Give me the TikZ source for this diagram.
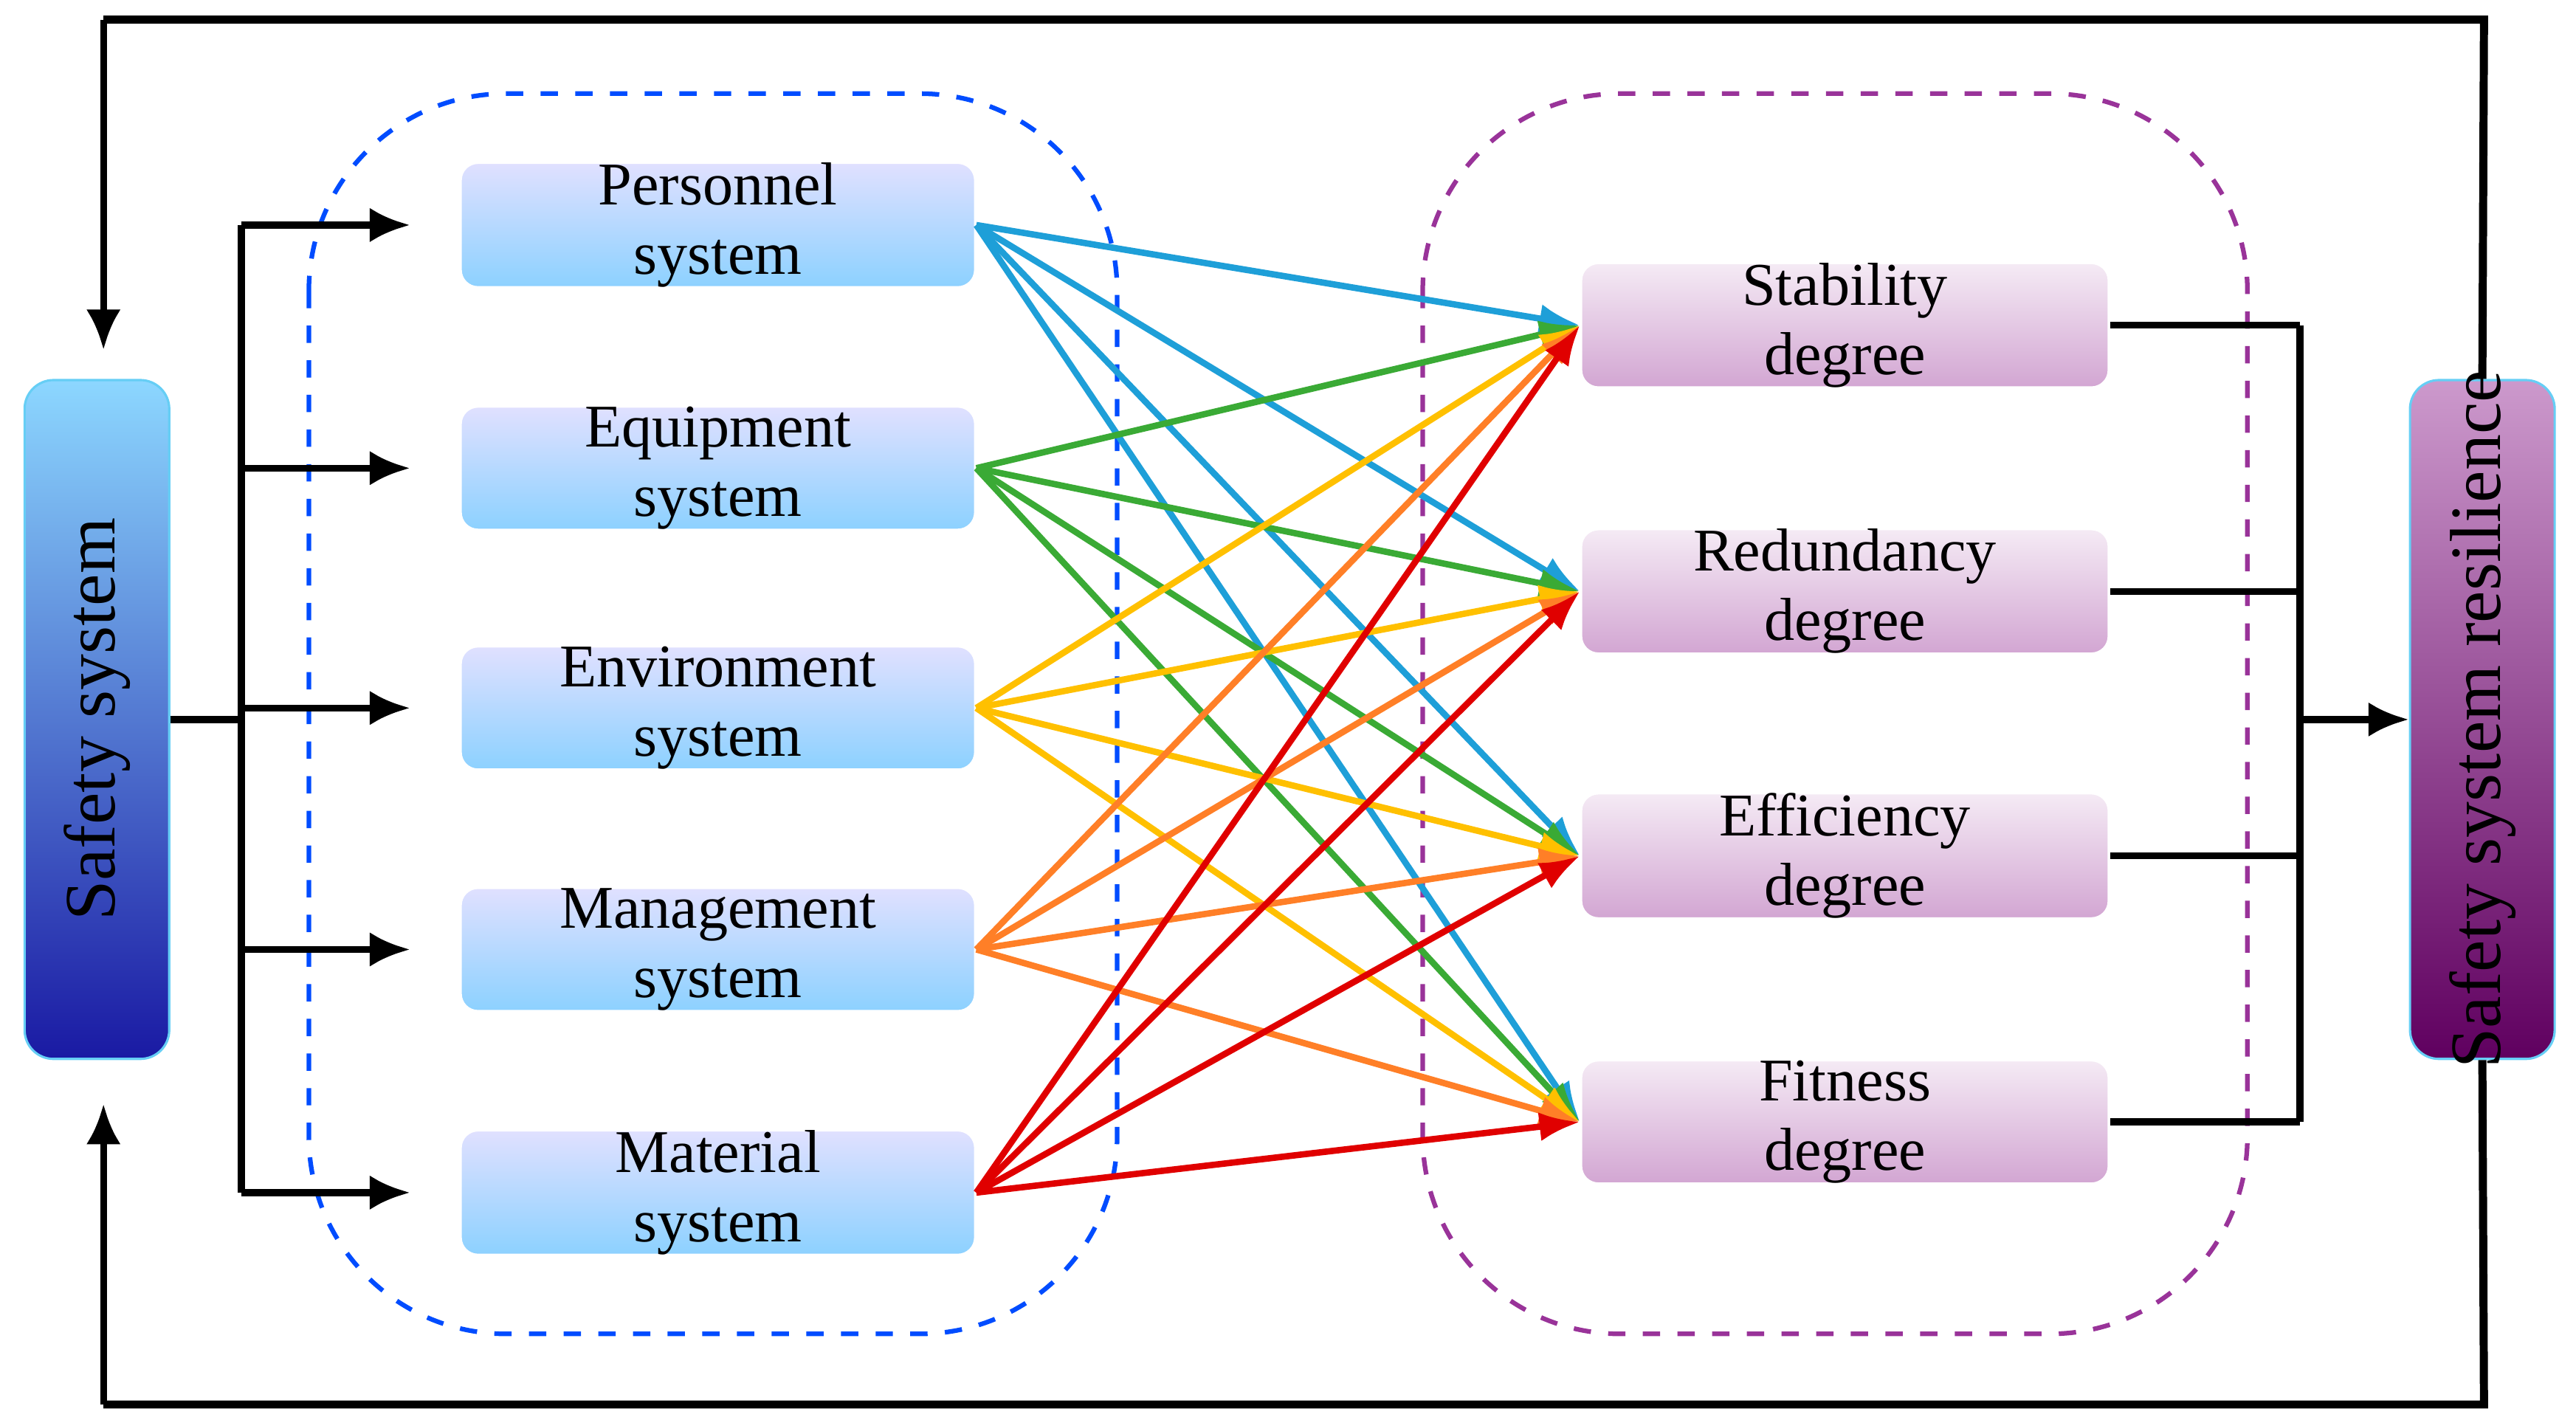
\documentclass[tikz,border=0pt]{standalone}
\usepackage{fontspec}
\setmainfont{Liberation Serif}
\usetikzlibrary{arrows.meta}
\definecolor{cPer}{HTML}{1E9FD8}
\definecolor{cEqu}{HTML}{3AAA35}
\definecolor{cEnv}{HTML}{FFC000}
\definecolor{cMan}{HTML}{FF7F27}
\definecolor{cMat}{HTML}{E00000}
\tikzset{
  sysbox/.style={rounded corners=3pt, minimum width=3.13cm, minimum height=0.75cm,
    top color=blue!12!white, bottom color=blue!40!cyan!45!white, draw=white,
    align=center, font=\fontsize{10.5}{12}\selectfont, inner sep=0pt},
  degbox/.style={sysbox, minimum width=3.21cm, top color=violet!8!white, bottom color=violet!35!white},
  blk/.style={line width=1.2pt, -{Latex[length=7pt,width=6pt]}},
  col/.style={line width=1.1pt, -{Latex[length=7pt,width=5pt]}}
}
\begin{document}
\begin{tikzpicture}[x=0.01cm,y=-0.01cm]
\useasboundingbox (0,0) rectangle (1568,864);
% dashed groups
\draw[dashed, thick, blue!70!cyan, rounded corners=1.2cm] (188,57) rectangle (680,812);
\draw[dashed, thick, violet!80, rounded corners=1.2cm] (866,57) rectangle (1368,812);
% side blocks
\node[rounded corners=5pt, draw=cyan!60, top color=blue!35!cyan!45!white, bottom color=blue!60!black!90,
  minimum width=0.88cm, minimum height=4.13cm] (safe) at (59,438) {};
\path (safe) node[rotate=90, font=\fontsize{12.5}{14}\selectfont] {Safety system};
\node[rounded corners=5pt, draw=cyan!60, top color=violet!40!white, bottom color=violet!75!black,
  minimum width=0.88cm, minimum height=4.13cm] (res) at (1511,438) {};
\path (res) node[rotate=90, font=\fontsize{12.5}{14}\selectfont] {Safety system resilience};
% systems
\node[sysbox] (per) at (437,137) {Personnel\\system};
\node[sysbox] (equ) at (437,285) {Equipment\\system};
\node[sysbox] (env) at (437,431) {Environment\\system};
\node[sysbox] (man) at (437,578) {Management\\system};
\node[sysbox] (mat) at (437,726) {Material\\system};
% degrees
\node[degbox] (sta) at (1123,198) {Stability\\degree};
\node[degbox] (red) at (1123,360) {Redundancy\\degree};
\node[degbox] (eff) at (1123,521) {Efficiency\\degree};
\node[degbox] (fit) at (1123,683) {Fitness\\degree};
% colored links
\foreach \s/\c in {per/cPer, equ/cEqu, env/cEnv, man/cMan, mat/cMat}
  \foreach \t in {sta, red, eff, fit}
    \draw[col, \c] (\s.east) -- (\t.west);
% left distribution
\coordinate (lt) at (147,137);
\coordinate (lb) at (147,726);
\draw[line width=1.2pt] (lt) -- (lb);
\draw[line width=1.2pt] (safe.east) -- (147,438);
\foreach \n in {per, equ, env, man, mat}
  \draw[blk] (147,0 |- \n.west) -- ([xshift=-0.3cm]\n.west);
% right collection
\foreach \n in {sta, red, eff, fit}
  \draw[line width=1.2pt] (\n.east) -- (1400,0 |- \n.east);
\draw[line width=1.2pt] (1400,198) -- (1400,683);
\draw[blk] (1400,438) -- (res.west);
% feedback loop
\coordinate (tl) at (63,12);
\coordinate (tr) at (1512,12);
\coordinate (br) at (1512,855);
\coordinate (bl) at (63,855);
\draw[line width=1.4pt] (res.north) -- (tr) -- (tl);
\draw[blk] (tl) -- (63,213);
\draw[line width=1.4pt] (res.south) -- (br) -- (bl);
\draw[blk] (bl) -- (63,672);
\end{tikzpicture}
\end{document}
